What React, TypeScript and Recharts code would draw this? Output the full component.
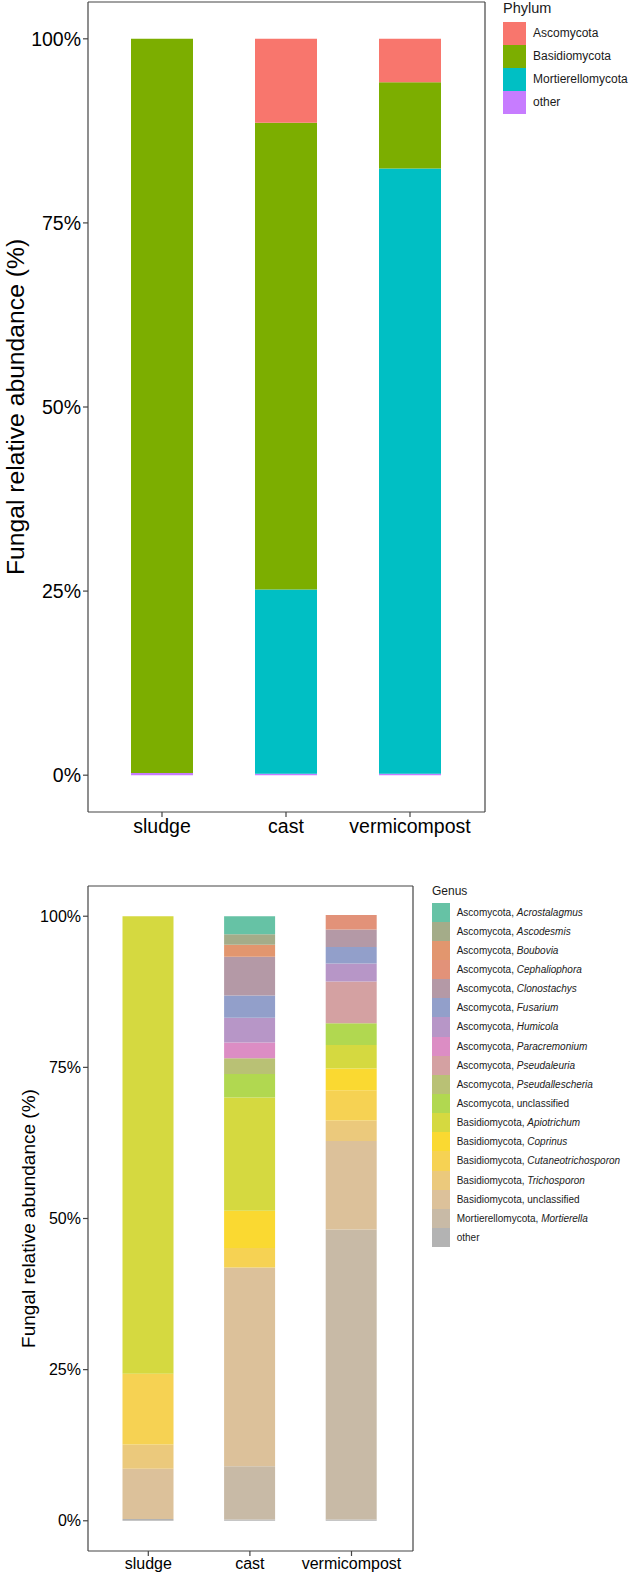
import { BarChart, Bar, XAxis, YAxis, Label } from "recharts"

const FONT = "'Liberation Sans', Arial, Helvetica, sans-serif"
const BORDER = "#444444"

// shared
const samples = ["sludge", "cast", "vermicompost"]
const yTicks = [0, 0.25, 0.5, 0.75, 1]
const yTitle = "Fungal relative abundance (%)"

// phylum level (sludge, cast, vermicompost)
const phyla = ["Ascomycota", "Basidiomycota", "Mortierellomycota", "other"]
const phylumColors = ["#F8766D", "#7CAE00", "#00BFC4", "#C77CFF"]
const ascomycota = [0, 0.114, 0.059]
const basidiomycota = [0.997, 0.634, 0.117]
const mortierellomycota = [0, 0.25, 0.822]
const phylumOther = [0.003, 0.002, 0.002]
const phylumValues = [ascomycota, basidiomycota, mortierellomycota, phylumOther]

// genus level (sludge, cast, vermicompost)
const genusPhylum = [
  "Ascomycota", "Ascomycota", "Ascomycota", "Ascomycota", "Ascomycota", "Ascomycota",
  "Ascomycota", "Ascomycota", "Ascomycota", "Ascomycota", "Ascomycota",
  "Basidiomycota", "Basidiomycota", "Basidiomycota", "Basidiomycota", "Basidiomycota",
  "Mortierellomycota", "",
]
const genusNames = [
  "Acrostalagmus", "Ascodesmis", "Boubovia", "Cephaliophora", "Clonostachys", "Fusarium",
  "Humicola", "Paracremonium", "Pseudaleuria", "Pseudallescheria", "unclassified",
  "Apiotrichum", "Coprinus", "Cutaneotrichosporon", "Trichosporon", "unclassified",
  "Mortierella", "other",
]
const genusColors = [
  "#66C2A5", "#A4AC89", "#E2966E", "#E29279", "#B499A6", "#929FCA",
  "#B796C7", "#DC8DC4", "#D4A1A2", "#B9C175", "#B1D850",
  "#D5D940", "#FAD931", "#F6D253", "#EBC97C", "#DCC19A",
  "#C8BAA6", "#B3B3B3",
]
const acrostalagmus = [0, 0.03, 0]
const ascodesmis = [0, 0.017, 0]
const boubovia = [0, 0.02, 0]
const cephaliophora = [0, 0, 0.024]
const clonostachys = [0, 0.064, 0.029]
const fusarium = [0, 0.037, 0.027]
const humicola = [0, 0.041, 0.03]
const paracremonium = [0, 0.026, 0]
const pseudaleuria = [0, 0, 0.069]
const pseudallescheria = [0, 0.026, 0]
const ascoUnclassified = [0, 0.039, 0.036]
const apiotrichum = [0.757, 0.187, 0.039]
const coprinus = [0, 0.062, 0.036]
const cutaneotrichosporon = [0.117, 0.032, 0.05]
const trichosporon = [0.04, 0, 0.034]
const basidioUnclassified = [0.083, 0.329, 0.146]
const mortierella = [0, 0.088, 0.48]
const genusOther = [0.003, 0.002, 0.002]
const genusValues = [
  acrostalagmus, ascodesmis, boubovia, cephaliophora, clonostachys, fusarium,
  humicola, paracremonium, pseudaleuria, pseudallescheria, ascoUnclassified,
  apiotrichum, coprinus, cutaneotrichosporon, trichosporon, basidioUnclassified,
  mortierella, genusOther,
]

const phylumRows = samples.map((s, i) => {
  const row: Record<string, any> = { sample: s }
  phyla.forEach((p, k) => (row["p" + k] = phylumValues[k][i]))
  return row
})
const genusRows = samples.map((s, i) => {
  const row: Record<string, any> = { sample: s }
  genusNames.forEach((_, k) => (row["g" + k] = genusValues[k][i]))
  return row
})

const pct = (v: number) => `${Math.round(v * 100)}%`

function YTitle({ viewBox, x, size }: any) {
  const cy = viewBox.y + viewBox.height / 2
  return (
    <text
      transform={`translate(${x}, ${cy}) rotate(-90)`}
      textAnchor="middle"
      dominantBaseline="central"
      fontSize={size}
      fill="#000"
      fontFamily={FONT}
    >
      {yTitle}
    </text>
  )
}

// one ggplot-like panel: bottom/left axes with ticks, top/right axes only as border
function Panel({ rows, keys, colors, width, height, margin, xHeight, padding, barSize, tickFont, titleFont, titleX }: any) {
  const axisLine = { stroke: BORDER, strokeWidth: 1.2 }
  return (
    <BarChart width={width} height={height} data={rows} margin={margin} style={{ fontFamily: FONT }}>
      <XAxis
        dataKey="sample"
        height={xHeight}
        interval={0}
        padding={padding}
        tickSize={5}
        axisLine={axisLine}
        tickLine={axisLine}
        tick={{ fontSize: tickFont, fill: "#000" }}
      />
      <XAxis xAxisId="top" dataKey="sample" orientation="top" height={1} tick={false} tickLine={false} axisLine={axisLine} />
      <YAxis
        type="number"
        domain={[-0.05, 1.05]}
        ticks={yTicks}
        allowDataOverflow
        width={88}
        tickSize={5}
        tickFormatter={pct}
        axisLine={axisLine}
        tickLine={axisLine}
        tick={{ fontSize: tickFont, fill: "#000" }}
      >
        <Label content={(p: any) => <YTitle {...p} x={titleX} size={titleFont} />} />
      </YAxis>
      <YAxis yAxisId="right" orientation="right" type="number" domain={[-0.05, 1.05]} width={1} tick={false} tickLine={false} axisLine={axisLine} />
      {keys
        .map((k: string, i: number) => (
          <Bar key={k} dataKey={k} stackId="a" fill={colors[i]} barSize={barSize} isAnimationActive={false} />
        ))
        .reverse()}
    </BarChart>
  )
}

export default function App() {
  return (
    <div style={{ position: "absolute", left: 0, top: 0, width: 629, height: 1574, background: "#fff", fontFamily: FONT, overflow: "hidden" }}>
      {/* phylum chart */}
      <div style={{ position: "absolute", left: 0, top: 0 }}>
        <Panel
          rows={phylumRows}
          keys={phyla.map((_, k) => "p" + k)}
          colors={phylumColors}
          width={629}
          height={845}
          margin={{ top: 1, right: 143, bottom: 0, left: 0 }}
          xHeight={33}
          padding={{ left: 12, right: 13 }}
          barSize={62}
          tickFont={19.5}
          titleFont={24.7}
          titleX={15}
        />
      </div>
      <div style={{ position: "absolute", left: 503, top: 0, fontSize: 14.5, lineHeight: "17px", color: "#1a1a1a" }}>Phylum</div>
      {phyla.map((p, i) => (
        <div key={p}>
          <div style={{ position: "absolute", left: 503, top: 22.3 + i * 23, width: 22.5, height: 23, background: phylumColors[i] }} />
          <div style={{ position: "absolute", left: 533, top: 22.3 + i * 23, height: 23, lineHeight: "23px", fontSize: 12, color: "#1a1a1a", whiteSpace: "nowrap" }}>{p}</div>
        </div>
      ))}

      {/* genus chart */}
      <div style={{ position: "absolute", left: 0, top: 866 }}>
        <Panel
          rows={genusRows}
          keys={genusNames.map((_, k) => "g" + k)}
          colors={genusColors}
          width={629}
          height={708}
          margin={{ top: 19, right: 215, bottom: 0, left: 0 }}
          xHeight={23}
          padding={{ left: 9.5, right: 10.7 }}
          barSize={51}
          tickFont={16}
          titleFont={19}
          titleX={28}
        />
      </div>
      <div style={{ position: "absolute", left: 432, top: 884, fontSize: 12, lineHeight: "15px", color: "#1a1a1a" }}>Genus</div>
      {genusNames.map((g, i) => (
        <div key={i}>
          <div style={{ position: "absolute", left: 431.7, top: 902.7 + i * 19.13, width: 18.3, height: 19.13, background: genusColors[i] }} />
          <div style={{ position: "absolute", left: 456.7, top: 902.7 + i * 19.13, height: 19.13, lineHeight: "19.13px", fontSize: 10, color: "#1a1a1a", whiteSpace: "nowrap" }}>
            {genusPhylum[i] ? (
              <>
                {genusPhylum[i]},{" "}
                {g === "unclassified" ? g : <i>{g}</i>}
              </>
            ) : (
              g
            )}
          </div>
        </div>
      ))}
    </div>
  )
}
